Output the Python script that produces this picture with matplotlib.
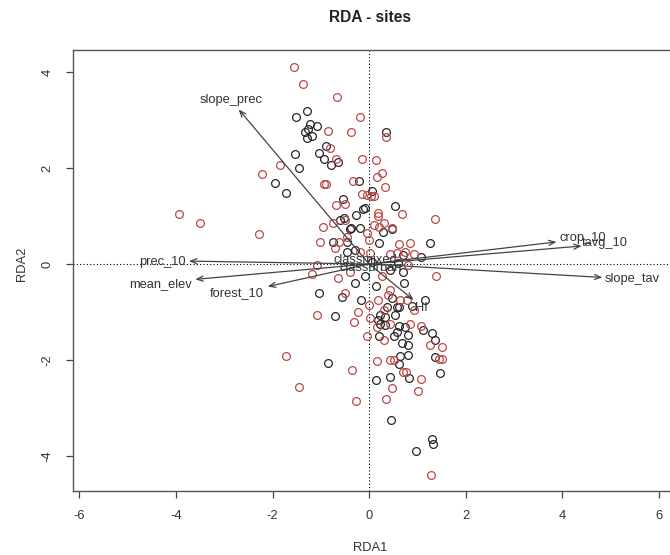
import matplotlib
matplotlib.use('Agg')
import matplotlib.pyplot as plt

plt.rcParams['font.family'] = ['Liberation Sans', 'DejaVu Sans']
plt.rcParams['axes.unicode_minus'] = False

# ---- site scores, group 1 (black) ----
black_x = [-1.29, -1.51, -1.22, -1.08, -1.27, -1.32, -1.18, -1.29, 0.34, -0.89,
           -1.54, -1.03, -0.93, -0.65, -0.78, -1.45, -1.95, -0.20, -1.73, 0.06,
           -0.55, 0.54, -0.08, -0.12, -0.27, -0.60, -0.51, -0.37, -0.19, -0.39,
           0.28, 0.47, -0.75, -0.45, 0.21, 1.26, -0.45, -0.29, 0.71, 1.07,
           0.71, 0.43, -0.08, 0.73, -1.03, -0.56, 0.47, 0.37, 0.57, 0.62,
           1.16, 0.89, -0.17, 0.23, 0.33, 0.54, -0.70, 0.19, 0.23, 0.33,
           0.61, 0.74, 1.12, 1.30, 1.36, 0.21, 0.52, 0.81, 0.57, 0.68,
           0.81, -0.85, 0.63, 0.81, 0.61, 1.36, 0.43, 0.83, 0.14, 1.47,
           0.45, 1.30, 1.33, 0.97, 0.05, 0.60, 0.15, -0.30]
black_y = [3.19, 3.06, 2.92, 2.87, 2.82, 2.74, 2.67, 2.62, 2.75, 2.46,
           2.30, 2.32, 2.19, 2.13, 2.06, 1.99, 1.69, 1.73, 1.47, 1.53,
           1.36, 1.20, 1.17, 1.14, 1.02, 0.92, 0.95, 0.76, 0.74, 0.72,
           0.67, 0.72, 0.45, 0.46, 0.43, 0.43, 0.24, 0.29, 0.19, 0.15,
           -0.16, -0.13, -0.26, -0.39, -0.60, -0.68, -0.71, -0.89, -0.89, -0.89,
           -0.75, -0.88, -0.75, -1.06, -1.10, -1.06, -1.08, -1.17, -1.24, -1.27,
           -1.29, -1.31, -1.38, -1.44, -1.58, -1.50, -1.51, -1.48, -1.41, -1.65,
           -1.69, -2.07, -1.91, -1.90, -2.09, -1.94, -2.35, -2.38, -2.42, -2.28,
           -3.25, -3.65, -3.75, -3.89, 0.05, 0.02, -0.45, -0.40]

# ---- site scores, group 2 (red) ----
red_x = [-1.56, -1.37, -0.66, -0.19, -0.85, -0.37, 0.34, -0.82, -0.68, -0.15,
         0.14, -1.85, -2.22, 0.26, 0.16, -0.34, -0.93, -0.89, 0.32, -0.15,
         -0.04, 0.04, 0.11, -0.69, -0.50, 0.68, 1.36, 0.18, 0.19, -0.50,
         -0.75, -0.96, 0.31, 0.10, 0.21, 0.47, -2.27, -0.05, -1.01, -0.63,
         -0.46, -0.01, 0.61, 0.85, -0.71, -0.19, 0.02, 0.43, 0.57, 0.74,
         0.92, -1.08, -1.18, 0.81, -0.39, 0.26, -0.65, 1.38, 0.43, 0.40,
         0.64, 0.78, -0.50, -0.01, 0.18, 0.92, -0.23, 0.30, -1.08, 0.02,
         -0.32, 0.16, 0.43, 0.85, 1.07, 1.26, 1.50, -0.05, 0.30, -1.72,
         -0.35, 0.17, 0.43, 0.52, 1.45, 1.50, 0.70, 0.76, 1.07, 1.01,
         0.48, 0.34, -1.45, -0.27, 1.28, -3.93, -3.51]
red_y = [4.11, 3.74, 3.47, 3.07, 2.78, 2.76, 2.64, 2.42, 2.19, 2.19,
         2.17, 2.06, 1.87, 1.90, 1.82, 1.73, 1.66, 1.66, 1.61, 1.46,
         1.43, 1.42, 1.42, 1.22, 1.25, 1.05, 0.94, 1.06, 0.99, 0.92,
         0.85, 0.78, 0.86, 0.81, 0.78, 0.76, 0.62, 0.65, 0.46, 0.46,
         0.56, 0.50, 0.41, 0.44, 0.33, 0.26, 0.22, 0.20, 0.22, 0.26,
         0.21, -0.02, -0.21, -0.02, -0.16, -0.26, -0.29, -0.26, -0.54, -0.65,
         -0.75, -0.75, -0.61, -0.85, -0.75, -0.96, -0.99, -0.96, -1.06, -1.12,
         -1.20, -1.31, -1.24, -1.24, -1.29, -1.69, -1.72, -1.51, -1.58, -1.91,
         -2.21, -2.02, -1.99, -2.01, -1.97, -1.98, -2.24, -2.26, -2.40, -2.64,
         -2.59, -2.81, -2.57, -2.85, -4.40, 1.04, 0.86]

# ---- biplot arrows (environmental variables) ----
vec_names = ['slope_prec', 'prec_10', 'mean_elev', 'forest_10',
             'crop_10', 'tavg_10', 'slope_tav', 'HI']
vec_x = [-2.70, -3.73, -3.60, -2.10, 3.88, 4.40, 4.83, 0.92]
vec_y = [3.22, 0.06, -0.32, -0.47, 0.46, 0.375, -0.28, -0.75]
lab_x = [-2.86, -4.27, -4.31, -2.73, 4.43, 4.88, 5.45, 1.09]
lab_y = [3.42, 0.05, -0.42, -0.61, 0.54, 0.43, -0.32, -0.92]

# ---- factor centroids ----
cent_names = ['classmixed', 'classurban']
cent_x = [-0.08, 0.03]
cent_y = [0.08, -0.09]

W, H = 670, 555
fig = plt.figure(figsize=(W / 100, H / 100), dpi=100)
left, right, top, bottom = 73, 683, 50, 491
ax = fig.add_axes([left / W, (H - bottom) / H, (right - left) / W, (bottom - top) / H])
ax.set_xlim(-6.13, 6.497)
ax.set_ylim(-4.729, 4.458)

ax.axhline(0, color='black', lw=0.8, ls=(0, (1, 2)), zorder=1)
ax.axvline(0, color='black', lw=0.8, ls=(0, (1, 2)), zorder=1)

ax.plot(black_x, black_y, 'o', mfc='none', mec='#262626', ms=5.6, mew=0.9, zorder=2)
ax.plot(red_x, red_y, 'o', mfc='none', mec='#b84a48', ms=5.6, mew=0.9, zorder=2)

for n, x, y, lx, ly in zip(vec_names, vec_x, vec_y, lab_x, lab_y):
    ax.annotate('', xy=(x, y), xytext=(0, 0),
                arrowprops=dict(arrowstyle='->,head_length=0.45,head_width=0.18',
                                color='#444444', lw=0.9, shrinkA=0, shrinkB=0),
                zorder=3)
    ax.text(lx, ly, n, ha='center', va='center', fontsize=9.3, color='#333333', zorder=4)

for n, x, y in zip(cent_names, cent_x, cent_y):
    ax.text(x, y, n, ha='center', va='center', fontsize=9.3, color='#333333', zorder=4)

ax.set_xticks([-6, -4, -2, 0, 2, 4, 6])
ax.set_xticklabels(['-6', '-4', '-2', '0', '2', '4', '6'])
ax.set_yticks([-4, -2, 0, 2, 4])
ax.set_yticklabels(['-4', '-2', '0', '2', '4'], rotation=90, va='center')
ax.tick_params(axis='both', direction='out', length=5, width=0.9, colors='#444444',
               labelcolor='#333333', labelsize=9.3)
ax.tick_params(axis='x', pad=9)
ax.tick_params(axis='y', pad=9)
for s in ax.spines.values():
    s.set_color('#555555')
    s.set_linewidth(1.0)

fig.text(22 / W, 1 - 264 / H, 'RDA2', rotation=90, ha='center', va='center',
         fontsize=9.3, color='#333333')
fig.text(370 / W, 1 - 548 / H, 'RDA1', ha='center', va='center',
         fontsize=9.3, color='#333333')
fig.text(370 / W, 1 - 18 / H, 'RDA - sites', ha='center', va='center',
         fontsize=11.2, fontweight='bold', color='#222222')

fig.savefig('out.png', dpi=100)
